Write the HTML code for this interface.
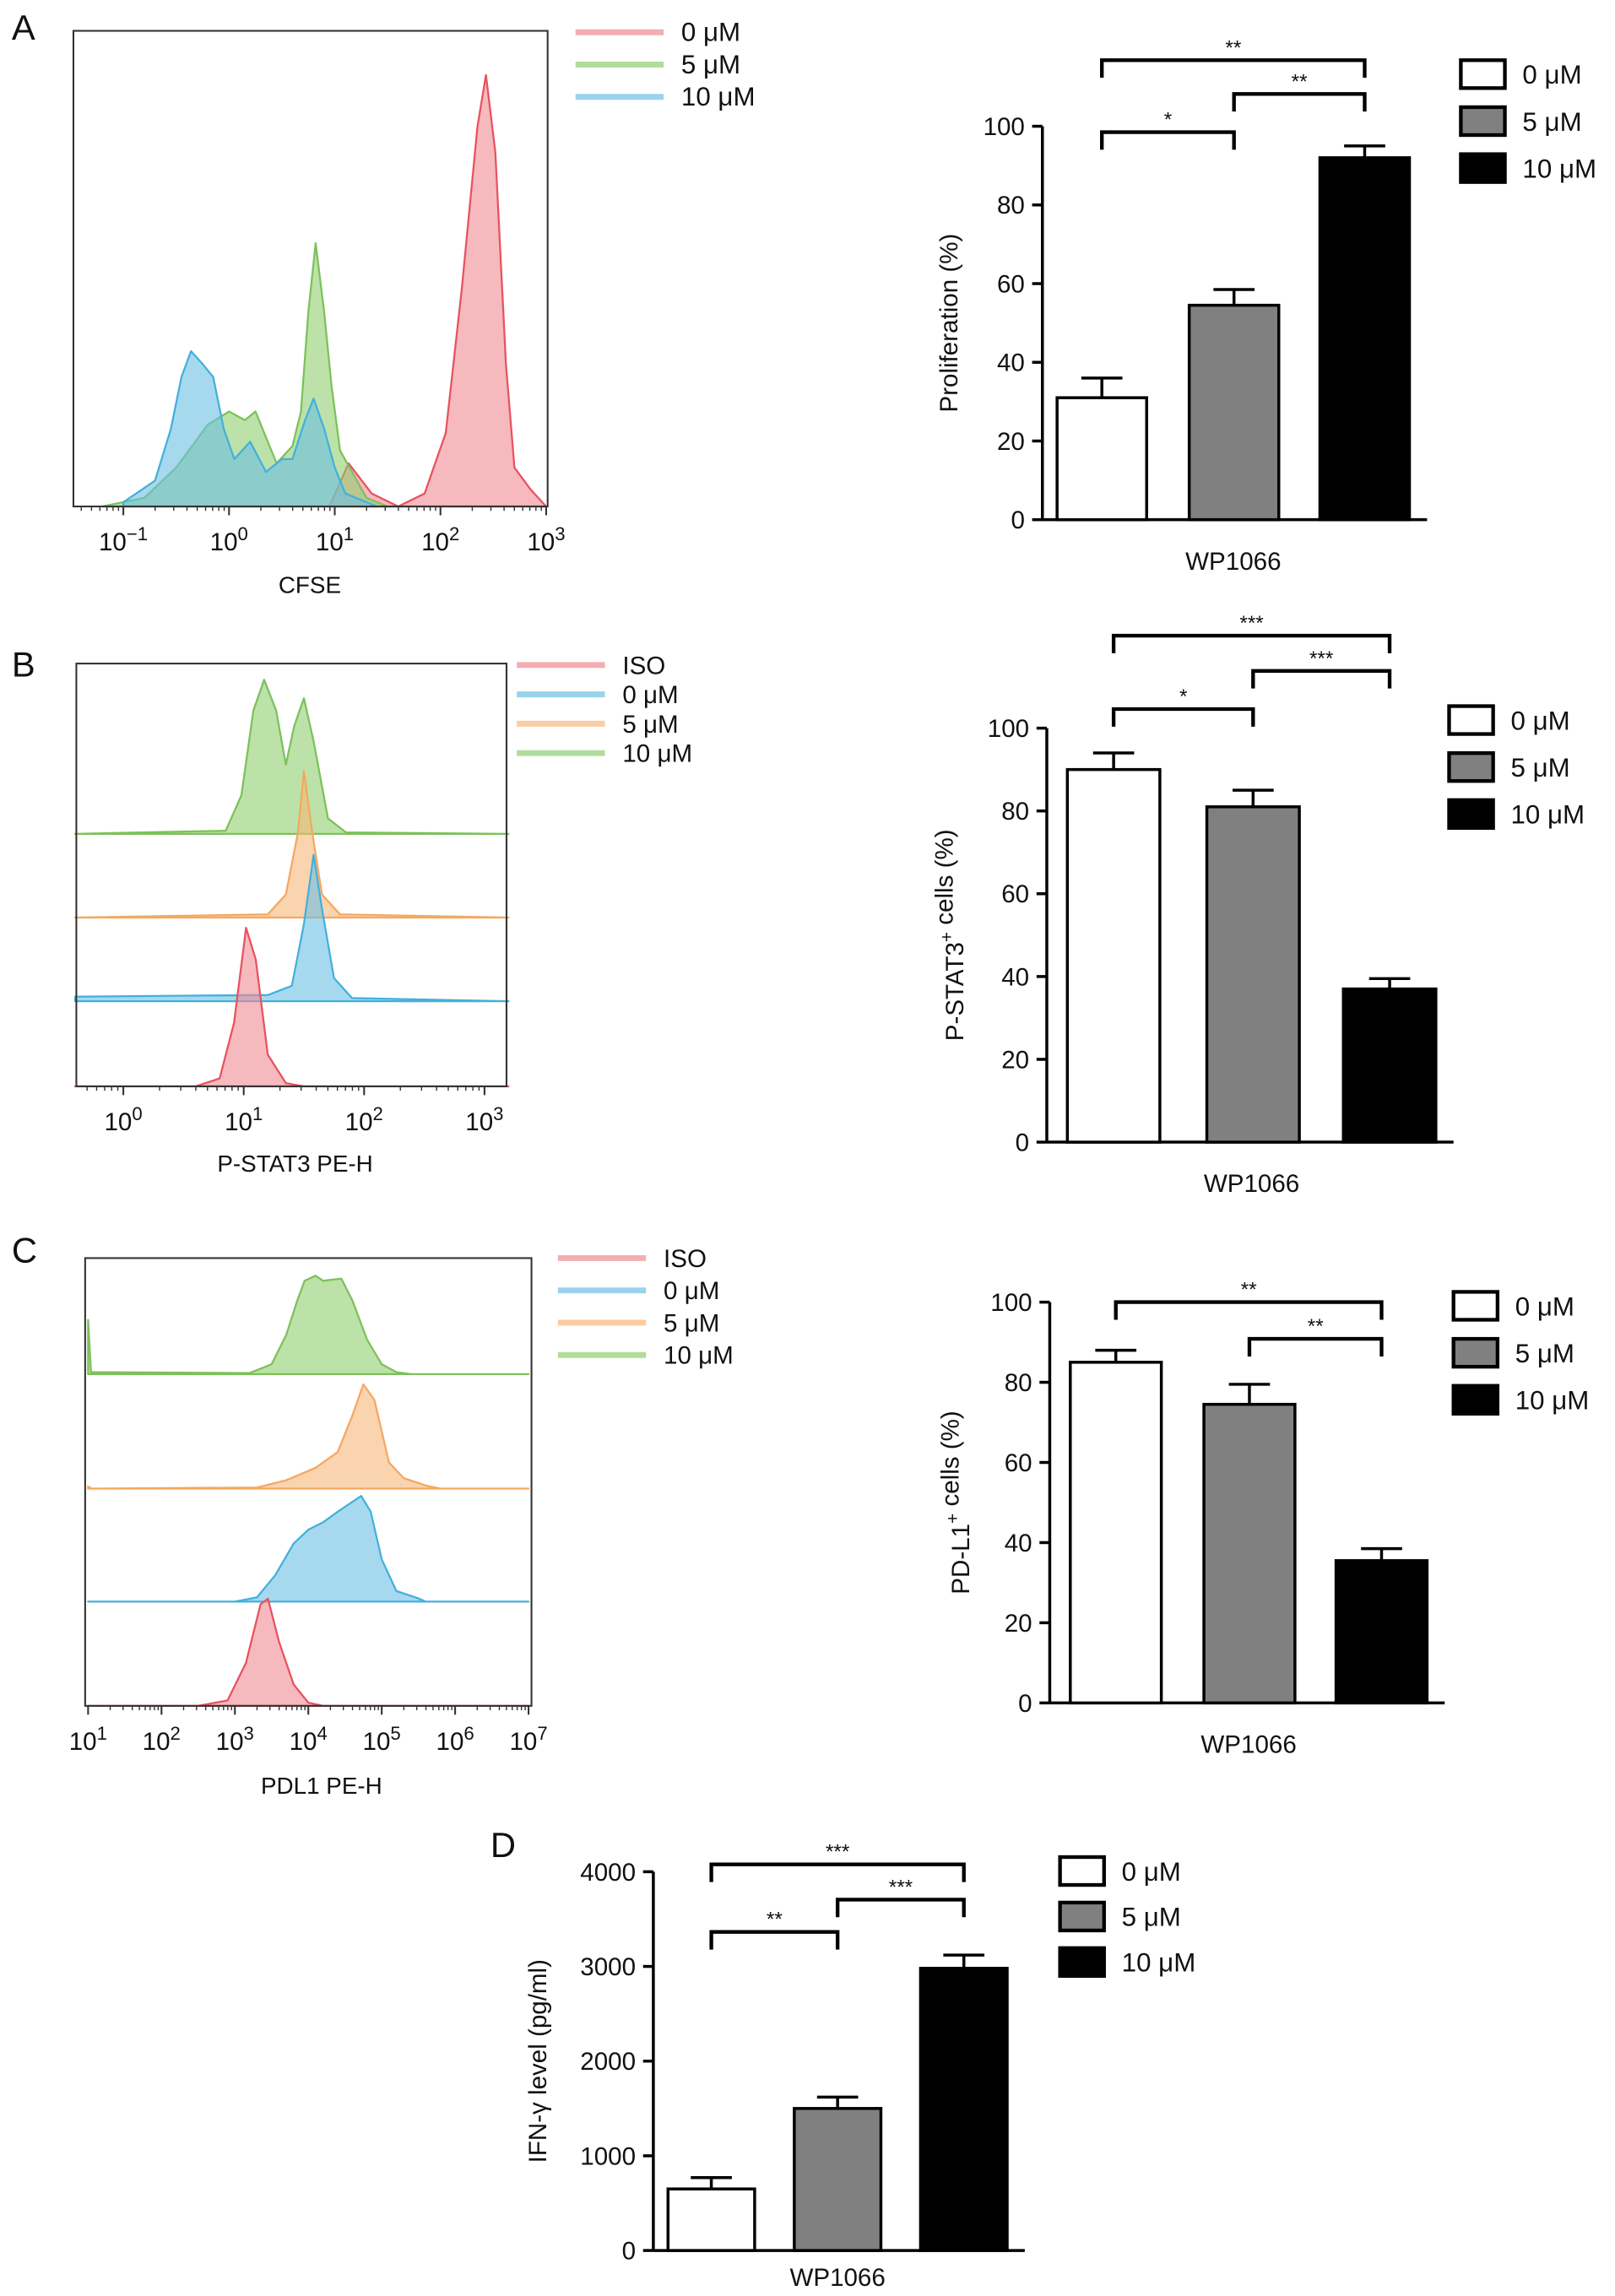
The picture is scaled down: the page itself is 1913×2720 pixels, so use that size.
<!DOCTYPE html>
<html><head><meta charset="utf-8"><style>
html,body{margin:0;padding:0;background:#fff}
svg{display:block}
text{font-family:"Liberation Sans",Arial,sans-serif;fill:#111}
</style></head><body>
<svg id="fig" width="1913" height="2720" viewBox="0 0 1100 1564" preserveAspectRatio="none" xmlns="http://www.w3.org/2000/svg">
<g id="root"></g>
</svg>
<script>
// ---------- DATA ----------
const histA_red   = [[0.95,0],[1.13,10],[1.35,3],[1.6,0],[1.85,3],[2.05,17],[2.2,50],[2.35,88],[2.43,100],[2.52,82],[2.62,33],[2.7,9],[2.85,4],[3.0,0]];
const histA_green = [[-1.2,0],[-0.8,2],[-0.5,9],[-0.2,19],[0.0,22],[0.15,20],[0.25,22],[0.45,10],[0.6,14],[0.68,22],[0.75,45],[0.82,61],[0.9,45],[0.97,28],[1.05,13],[1.3,2],[1.5,0]];
const histA_blue  = [[-1.0,1],[-0.7,6],[-0.55,18],[-0.45,30],[-0.36,36],[-0.25,33],[-0.15,30],[-0.05,18],[0.05,11],[0.2,15],[0.35,8],[0.5,11],[0.6,11],[0.72,20],[0.8,25],[0.9,18],[1.0,9],[1.1,3],[1.4,0]];
const ticksA = [-1,0,1,2,3];
const histB_iso   = [[-0.4,0],[0.6,0],[0.8,5],[0.92,40],[1.02,100],[1.1,80],[1.2,20],[1.35,2],[1.5,0],[3.2,0]];
const histB_0     = [[-0.4,3],[1.2,4],[1.4,10],[1.5,50],[1.58,95],[1.65,60],[1.75,15],[1.9,2],[3.2,0]];
const histB_5     = [[-0.4,0],[1.2,2],[1.35,15],[1.45,55],[1.5,95],[1.57,55],[1.65,15],[1.8,2],[3.2,0]];
const histB_10    = [[-0.4,0],[0.85,2],[0.98,25],[1.08,80],[1.17,100],[1.27,80],[1.35,45],[1.42,70],[1.5,88],[1.58,60],[1.7,10],[1.85,1],[3.2,0]];
const ticksB = [0,1,2,3];
const histC_iso   = [[1,0],[2.5,0],[2.9,5],[3.15,40],[3.35,95],[3.45,100],[3.6,60],[3.8,20],[4.0,3],[4.2,0],[7,0]];
const histC_0     = [[1,0],[3.0,0],[3.3,4],[3.55,25],[3.8,55],[4.0,68],[4.2,75],[4.4,85],[4.72,100],[4.85,85],[5.0,40],[5.2,10],[5.5,3],[5.6,0],[7,0]];
const histC_5     = [[1,2],[1.05,0],[3.3,1],[3.7,8],[4.1,20],[4.4,35],[4.6,70],[4.75,100],[4.9,85],[5.1,25],[5.3,10],[5.6,3],[5.8,0],[7,0]];
const histC_10    = [[1,55],[1.04,2],[3.2,1],[3.5,10],[3.7,40],[3.85,75],[3.95,95],[4.1,100],[4.2,95],[4.45,97],[4.6,75],[4.8,35],[5.0,10],[5.2,2],[5.4,0],[7,0]];
const ticksC = [1,2,3,4,5,6,7];
const groups = ["0 μM","5 μM","10 μM"];
const barA = [31,54.5,92];   const errA = [5,4,3];
const barB = [90,81,37];     const errB = [4,4,2.5];
const barC = [85,74.5,35.5]; const errC = [3,5,3];
const barD = [650,1500,2980];const errD = [120,120,140];
const ticksPct = [0,20,40,60,80,100];
const ticksD = [0,1000,2000,3000,4000];

// ---------- HELPERS ----------
const NS="http://www.w3.org/2000/svg";
const root=document.getElementById('root');
function mk(tag,attrs,parent,txt){const e=document.createElementNS(NS,tag);for(const k in attrs)e.setAttribute(k,attrs[k]);if(txt!==undefined)e.textContent=txt;(parent||root).appendChild(e);return e;}
function grp(name){const g=mk('g',{});return g;}
function logTick(g,x,y,exp,fs){
  const t=mk('text',{x:x,y:y,'text-anchor':'middle','font-size':fs},g);
  
  
  mk('tspan',{},t,'10');
  mk('tspan',{dy:-7,'font-size':fs*0.75},t,exp<0?'−'+(-exp):String(exp));
}
function histogram(g,pts,xs,base,amp,stroke,fill,name){
  let d='M'+xs(pts[0][0])+','+base;
  pts.forEach(p=>{d+=' L'+xs(p[0]).toFixed(1)+','+(base-p[1]/100*amp).toFixed(1);});
  d+=' L'+xs(pts[pts.length-1][0])+','+base+' Z';
  const p=mk('path',{d:d,fill:fill,'fill-opacity':0.6,stroke:stroke,'stroke-width':1.3,'stroke-linejoin':'round'},g);
  
  
}
function histFrame(g,x0,y0,x1,y1,xs,ticks,minorFrom,minorTo,fs,label,lx,ly){
  const r=mk('rect',{x:x0,y:y0,width:x1-x0,height:y1-y0,fill:'none',stroke:'#333','stroke-width':1.2},g);
  
  for(let d=minorFrom;d<minorTo;d++){for(let k=2;k<10;k++){const x=xs(d+Math.log10(k));if(x<x0||x>x1)continue;mk('line',{x1:x,x2:x,y1:y1,y2:y1+3,stroke:'#333','stroke-width':0.8},g);}}
  ticks.forEach(t=>{const x=xs(t);mk('line',{x1:x,x2:x,y1:y1,y2:y1+6,stroke:'#333','stroke-width':1.2},g);logTick(g,x,y1+30,t,17);});
  const l=mk('text',{x:lx,y:ly,'text-anchor':'middle','font-size':16},g,label);
  
}
function legendLines(g,x,y,dy,items,fs){
  items.forEach((it,i)=>{
    const e=grp('legend-entry');g.appendChild(e);
    mk('line',{x1:x,x2:x+60,y1:y+i*dy,y2:y+i*dy,stroke:it[1],'stroke-width':4,'stroke-opacity':0.7},e);
    mk('text',{x:x+72,y:y+i*dy+6,'font-size':fs},e,it[0]);
  });
}
function barChart(g,cfg){
  const ys=v=>cfg.y0-(v-cfg.vmin)/(cfg.vmax-cfg.vmin)*(cfg.y0-cfg.ytop);
  const fills=['#fff','#808080','#000'];
  mk('line',{x1:cfg.ax,x2:cfg.ax,y1:cfg.y0,y2:ys(cfg.vmax),stroke:'#000','stroke-width':2},g);
  mk('line',{x1:cfg.ax,x2:cfg.bx[2]+cfg.bw+12,y1:cfg.y0,y2:cfg.y0,stroke:'#000','stroke-width':2},g);
  cfg.ticks.forEach(t=>{const y=ys(t);mk('line',{x1:cfg.ax-7,x2:cfg.ax,y1:y,y2:y,stroke:'#000','stroke-width':2},g);
    const tl=mk('text',{x:cfg.ax-12,y:y+6,'text-anchor':'end','font-size':17},g,String(t));
    });
  cfg.vals.forEach((v,i)=>{
    const x=cfg.bx[i],cx=x+cfg.bw/2,top=ys(v),et=ys(v+cfg.errs[i]);
    const eb=mk('line',{x1:cx,x2:cx,y1:top,y2:et,stroke:'#000','stroke-width':2},g);
    
    mk('line',{x1:cx-14,x2:cx+14,y1:et,y2:et,stroke:'#000','stroke-width':2},g);
    const b=mk('rect',{x:x,y:top,width:cfg.bw,height:cfg.y0-top,fill:fills[i],stroke:'#000','stroke-width':2},g);
    
  });
  cfg.brackets.forEach(br=>{
    const xa=cfg.bx[br[0]]+cfg.bw/2,xb=cfg.bx[br[1]]+cfg.bw/2,y=br[2];
    const p=mk('path',{d:`M${xa},${y+12} L${xa},${y} L${xb},${y} L${xb},${y+12}`,fill:'none',stroke:'#000','stroke-width':2.5},g);
    
    mk('text',{x:(xa+xb)/2,y:y-4,'text-anchor':'middle','font-size':14},g,br[3]);
  });
  const yt=mk('text',{x:0,y:0,'text-anchor':'middle','font-size':17,transform:`translate(${cfg.ylx},${(cfg.y0+ys(cfg.vmax))/2}) rotate(-90)`},g);
  
  cfg.ylabel.forEach(s=>{mk('tspan',s[1]?{dy:-7,'font-size':12}:{},yt,s[0]);if(s[1]){mk('tspan',{dy:7},yt,'');}});
  const xt=mk('text',{x:(cfg.bx[0]+cfg.bx[2]+cfg.bw)/2,y:cfg.y0+(cfg.xlo||34),'text-anchor':'middle','font-size':17},g,'WP1066');
  
  groups.forEach((n,i)=>{
    const e=grp('legend-entry');g.appendChild(e);
    const y=cfg.ly+i*cfg.ldy;
    mk('rect',{x:cfg.lx,y:y-9,width:30,height:19,fill:fills[i],stroke:'#000','stroke-width':2.5},e);
    mk('text',{x:cfg.lx+42,y:y+7,'font-size':18},e,n);
  });
}
function panelLetter(t,x,y){const e=mk('text',{x:x,y:y,'font-size':24},root,t);}

// ---------- PANEL A ----------
panelLetter('A',8,27);
{
 const g=grp('panel-a-histogram');root.appendChild(g);
 const xs=d=>156+d*72;
 histogram(g,histA_red,xs,345,323*0.91,'#e8525f','#f08a92','histogram-0uM');
 histogram(g,histA_green,xs,345,323*0.91,'#7dc15a','#8fcf70','histogram-5uM');
 histogram(g,histA_blue,xs,345,323*0.91,'#43b0dc','#6cc0e2','histogram-10uM');
 histFrame(g,50,21,373,345,xs,ticksA,-2,3,16,'CFSE',211,404);
 legendLines(g,392,22,22,[['0 μM','#f08a92'],['5 μM','#8fcf70'],['10 μM','#6cc0e2']],18);
}
{
 const g=grp('panel-a-bar-chart');root.appendChild(g);
 barChart(g,{ax:710,y0:354,ytop:86,vmin:0,vmax:100,ticks:ticksPct,vals:barA,errs:errA,bx:[720,810,899],bw:61,
   brackets:[[0,1,90,'*'],[1,2,64,'**'],[0,2,41,'**']],ylabel:[['Proliferation (%)']],ylx:652,lx:995,ly:50,ldy:32});
}
// ---------- PANEL B ----------
panelLetter('B',8,461);
{
 const g=grp('panel-b-histogram');root.appendChild(g);
 const xs=d=>84+d*82;
 histogram(g,histB_10,xs,568,105,'#7dc15a','#8fcf70','histogram-10uM');
 histogram(g,histB_5,xs,625,105,'#f5a860','#f7b77a','histogram-5uM');
 histogram(g,histB_0,xs,682,105,'#43b0dc','#6cc0e2','histogram-0uM');
 histogram(g,histB_iso,xs,740,108,'#e8525f','#f08a92','histogram-iso');
 histFrame(g,52,452,345,740,xs,ticksB,-1,3,16,'P-STAT3 PE-H',201,798);
 legendLines(g,352,453,20,[['ISO','#f08a92'],['0 μM','#6cc0e2'],['5 μM','#f7b77a'],['10 μM','#8fcf70']],17);
}
{
 const g=grp('panel-b-bar-chart');root.appendChild(g);
 barChart(g,{ax:713,y0:778,ytop:496,vmin:0,vmax:100,ticks:ticksPct,vals:barB,errs:errB,bx:[727,822,915],bw:63,
   brackets:[[0,1,483,'*'],[1,2,457,'***'],[0,2,433,'***']],ylabel:[['P-STAT3'],['+',1],[' cells (%)']],ylx:656,lx:987,ly:490,ldy:32});
}
// ---------- PANEL C ----------
panelLetter('C',8,860);
{
 const g=grp('panel-c-histogram');root.appendChild(g);
 const xs=d=>60+(d-1)*50;
 histogram(g,histC_10,xs,936,67,'#7dc15a','#8fcf70','histogram-10uM');
 histogram(g,histC_5,xs,1014,71,'#f5a860','#f7b77a','histogram-5uM');
 histogram(g,histC_0,xs,1091,72,'#43b0dc','#6cc0e2','histogram-0uM');
 histogram(g,histC_iso,xs,1162,73,'#e8525f','#f08a92','histogram-iso');
 histFrame(g,58,857,362,1162,xs,ticksC,1,7,16,'PDL1 PE-H',219,1222);
 legendLines(g,380,857,22,[['ISO','#f08a92'],['0 μM','#6cc0e2'],['5 μM','#f7b77a'],['10 μM','#8fcf70']],17);
}
{
 const g=grp('panel-c-bar-chart');root.appendChild(g);
 barChart(g,{ax:715,y0:1160,ytop:887,vmin:0,vmax:100,ticks:ticksPct,vals:barC,errs:errC,bx:[729,820,910],bw:62,
   brackets:[[1,2,912,'**'],[0,2,887,'**']],ylabel:[['PD-L1'],['+',1],[' cells (%)']],ylx:660,lx:990,ly:889,ldy:32});
}
// ---------- PANEL D ----------
panelLetter('D',334,1265);
{
 const g=grp('panel-d-bar-chart');root.appendChild(g);
 barChart(g,{ax:445,y0:1533,ytop:1275,vmin:0,vmax:4000,ticks:ticksD,vals:barD,errs:errD,bx:[455,541,627],bw:59,xlo:24,
   brackets:[[0,1,1316,'**'],[1,2,1294,'***'],[0,2,1270,'***']],ylabel:[['IFN-γ level (pg/ml)']],ylx:372,lx:722,ly:1274,ldy:31});
}
</script>
</body></html>
